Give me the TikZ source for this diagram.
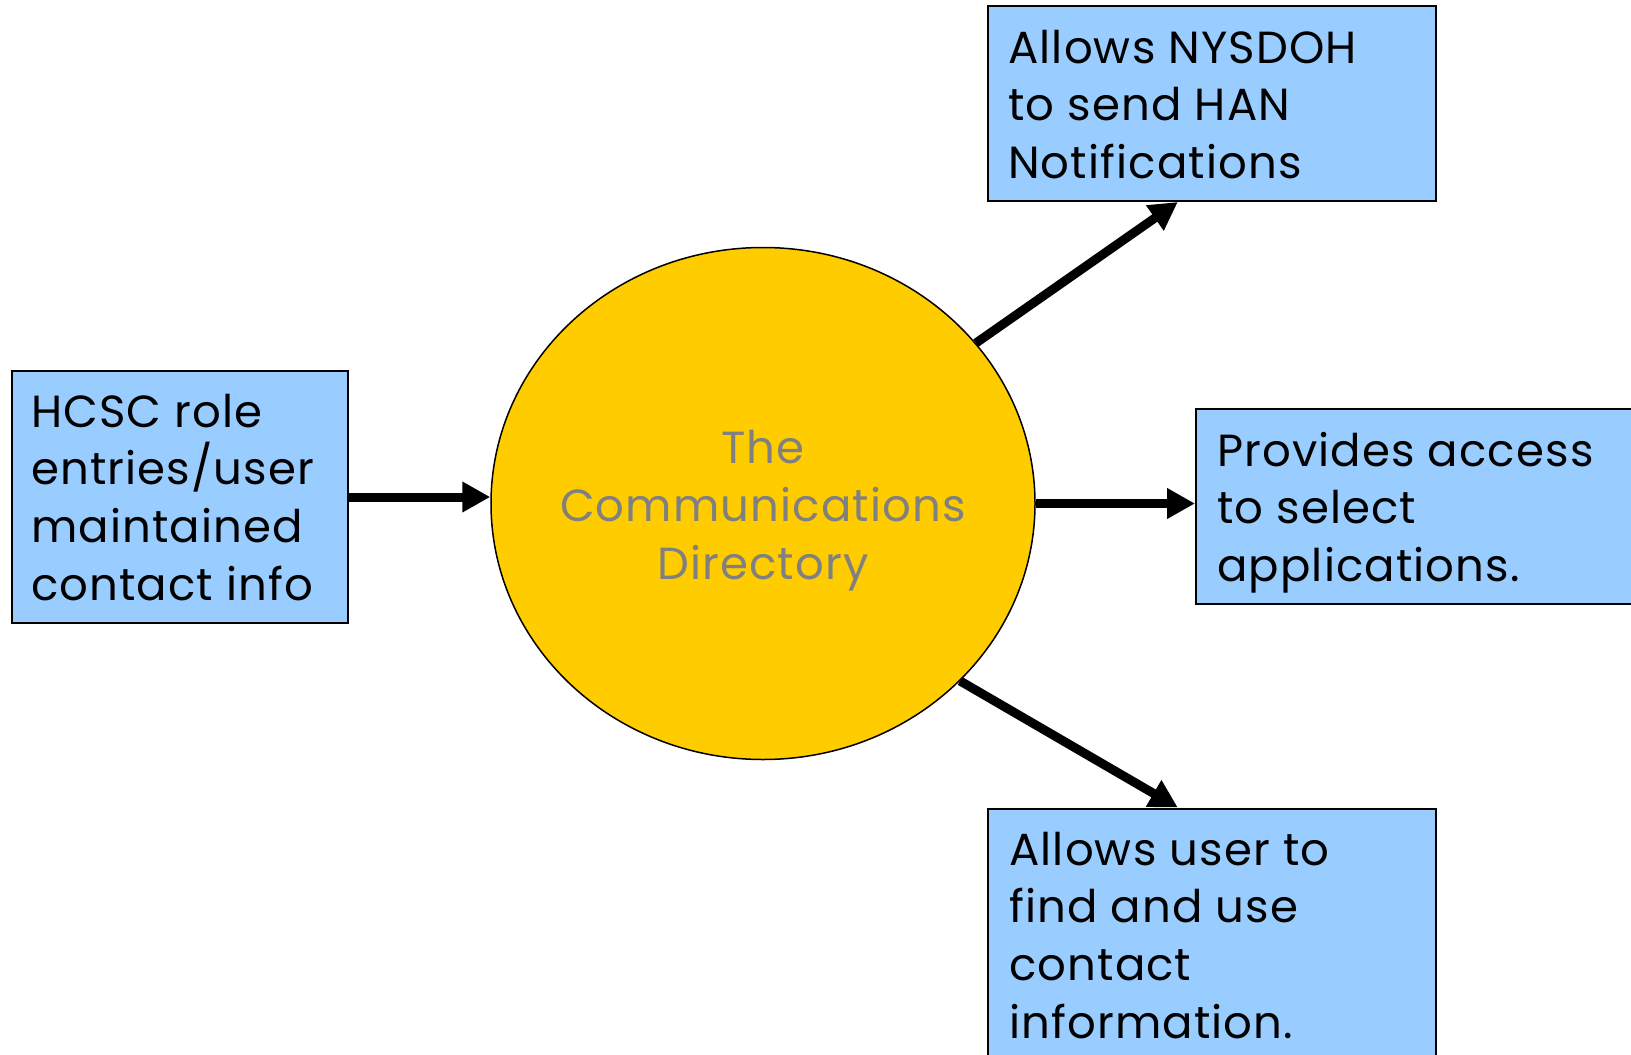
\documentclass[tikz,border=0pt]{standalone}
\usepackage{fontspec}
\setmainfont{Poppins}[LetterSpace=2.5]
\usetikzlibrary{shapes.geometric,arrows.meta,calc}
\definecolor{boxblue}{HTML}{99CCFF}
\definecolor{circgold}{HTML}{FFCC00}
\definecolor{txtgray}{HTML}{808080}
\newcommand{\lines}[2]{\parbox[t]{#1}{\parindent=0pt\raggedright #2}}
\newcommand{\clines}[2]{\parbox[t]{#1}{\parindent=0pt\centering #2}}
\begin{document}
\begin{tikzpicture}[x=1pt,y=-1pt,
  box/.style={draw=black, line width=2pt, fill=boxblue, rectangle, anchor=north west, inner sep=0pt},
  lbl/.style={anchor=base west, inner sep=0pt, font=\fontsize{45}{57.8}\selectfont},
  conn/.style={line width=9pt, -{Triangle[length=28pt,width=29pt]}}
]
\useasboundingbox (0,0) rectangle (1631,1055);
\begin{scope}
\clip (0,0) rectangle (1631,1055);
\fill[white] (0,0) rectangle (1631,1055);

\node[ellipse, draw=black, line width=1.5pt, fill=circgold, minimum width=544pt, minimum height=512pt, inner sep=0pt] (cd) at (763,503.5) {};
\node[lbl, anchor=base, text=txtgray] (cdt) at (763,463.5) {\clines{520pt}{The\\Communications\\Directory}};

\node[box, minimum width=336pt, minimum height=252pt] (hcsc) at (11,370) {};
\node[lbl] (hcsct) at ($(hcsc.north west)+(20,57)$) {\lines{320pt}{HCSC role\\entries/user\\maintained\\contact info}};

\node[box, minimum width=448pt, minimum height=195pt] (han) at (987,5) {};
\node[lbl] (hant) at ($(han.north west)+(21,58)$) {\lines{420pt}{Allows NYSDOH\\to send HAN\\Notifications}};

\node[box, minimum width=460pt, minimum height=195pt] (prov) at (1195,408) {};
\node[lbl] (provt) at ($(prov.north west)+(22,58)$) {\lines{420pt}{Provides access\\to select\\applications.}};

\node[box, minimum width=448pt, minimum height=300pt] (find) at (987,807.5) {};
\node[lbl] (findt) at ($(find.north west)+(22,57.5)$) {\lines{420pt}{Allows user to\\find and use\\contact\\information.}};

\draw[conn] (hcsc.east) -- (hcsc.east -| cd.west);
\draw[conn] (cd.east) -- (cd.east -| prov.west);
\draw[conn] (cd.37.7) -- ($(han.south west)!0.424!(han.south east)$);
\draw[conn] (cd.-42.6) -- ($(find.north west)!0.424!(find.north east)$);
\end{scope}
\end{tikzpicture}
\end{document}
